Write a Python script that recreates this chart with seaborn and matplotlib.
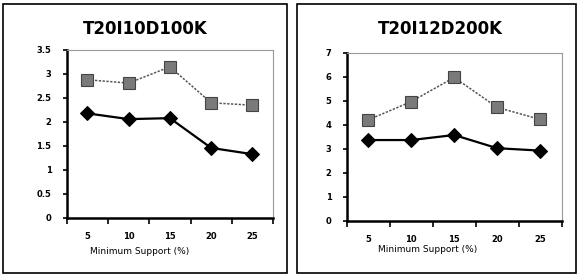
import matplotlib
matplotlib.use("Agg")
import matplotlib.pyplot as plt
import seaborn as sns
import pandas as pd
from matplotlib.patches import Rectangle

sns.set_style("white")
plt.rcParams['font.family'] = ['DejaVu Sans']
plt.rcParams['text.color'] = 'black'
plt.rcParams['xtick.color'] = 'black'
plt.rcParams['ytick.color'] = 'black'

# ---- data ----
support = ["5", "10", "15", "20", "25"]
left_title = "T20I10D100K"
left_square = [2.88, 2.81, 3.15, 2.40, 2.35]
left_diamond = [2.18, 2.06, 2.08, 1.46, 1.33]
left_yticks = [0, 0.5, 1, 1.5, 2, 2.5, 3, 3.5]

right_title = "T20I12D200K"
right_square = [4.20, 4.96, 5.97, 4.72, 4.22]
right_diamond = [3.36, 3.36, 3.57, 3.02, 2.92]
right_yticks = [0, 1, 2, 3, 4, 5, 6, 7]

xlabel = "Minimum Support (%)"

fig = plt.figure(figsize=(5.78, 2.77), dpi=100)

# panel frames
for (x0, x1) in [(3, 287), (297, 576)]:
    fig.patches.append(Rectangle((x0 / 578, 4 / 277), (x1 - x0) / 578, 269 / 277,
                                 transform=fig.transFigure, fill=False,
                                 edgecolor="black", linewidth=1.2))

def panel(rect, title, tcx, sq, di, yticks):
    ax = fig.add_axes(rect)
    pos = list(range(len(support)))
    df = pd.DataFrame({"x": pos, "sq": sq, "di": di})
    sns.lineplot(data=df, x="x", y="sq", ax=ax, color="#555555", linestyle=(0, (1.5, 1)),
                 linewidth=1.1, marker="s", markersize=9, markerfacecolor="#7a7a7a",
                 markeredgecolor="#444444", markeredgewidth=0.8)
    sns.lineplot(data=df, x="x", y="di", ax=ax, color="black", linewidth=1.6,
                 marker="D", markersize=7, markerfacecolor="black", markeredgecolor="black")
    ax.set_xlim(-0.5, len(support) - 0.5)
    ax.set_ylim(yticks[0], yticks[-1])
    ax.set_xticks([p - 0.5 for p in pos] + [pos[-1] + 0.5])
    ax.set_xticklabels([])
    ax.set_xticks(pos, minor=True)
    ax.set_xticklabels(support, minor=True, fontsize=6, fontweight="bold")
    ax.tick_params(axis="x", which="minor", length=0, pad=10)
    ax.tick_params(axis="x", which="major", length=4, width=1.2, direction="out", bottom=True)
    ax.set_yticks(yticks)
    ax.set_yticklabels([f"{t:g}" for t in yticks], fontsize=6, fontweight="bold")
    ax.tick_params(axis="y", length=3, width=1.2, direction="out", left=True, pad=8)
    ax.set_xlabel("")
    ax.set_ylabel("")
    for s in ["left", "bottom"]:
        ax.spines[s].set_color("black")
        ax.spines[s].set_linewidth(1.8)
    for s in ["top", "right"]:
        ax.spines[s].set_color("#999999")
        ax.spines[s].set_linewidth(0.8)
    fig.text(tcx / 578, 1 - 29 / 277, title, ha="center", va="center",
             fontsize=12, fontweight="bold", color="black")
    return ax

axl = panel([0.1154, 0.213, 0.357, 0.6065], left_title, 145, left_square, left_diamond, left_yticks)
axr = panel([0.5998, 0.2033, 0.372, 0.6065], right_title, 440, right_square, right_diamond, right_yticks)

fig.text(90 / 578, 1 - 252 / 277, xlabel, ha="left", va="center", fontsize=6.5, color="black")
fig.text(378 / 578, 1 - 250 / 277, xlabel, ha="left", va="center", fontsize=6.5, color="black")

fig.savefig("out.png", dpi=100)
